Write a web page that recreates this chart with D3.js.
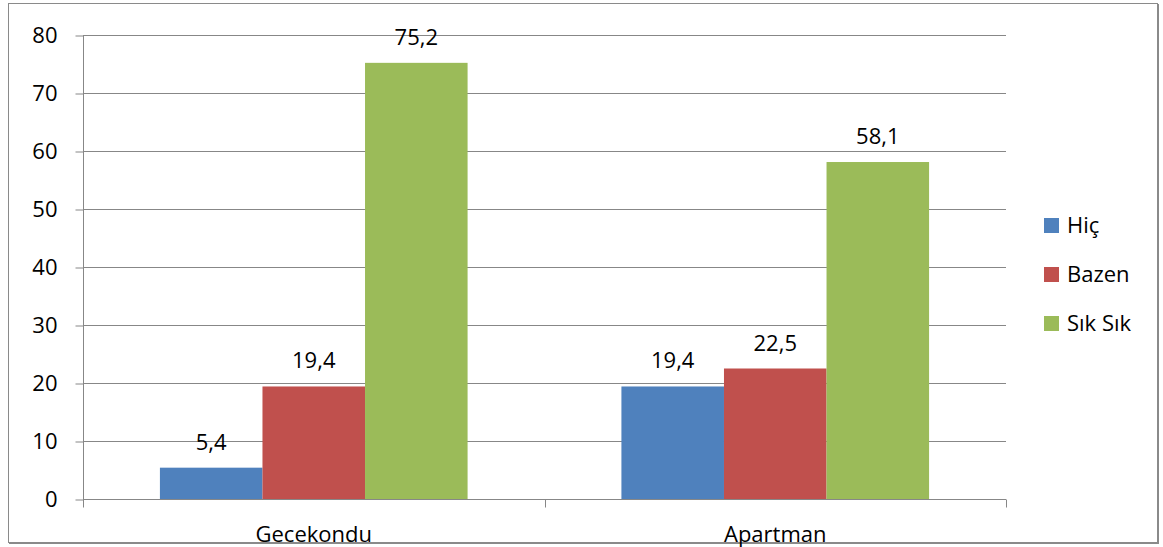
<!DOCTYPE html>
<html><head><meta charset="utf-8">
<script src="https://cdn.jsdelivr.net/npm/d3@7"></script>
<style>html,body{margin:0;padding:0;background:#fff;}svg{display:block;}</style>
</head><body>
<svg id="c" width="1163" height="547"></svg>
<script>
const categories = ["Gecekondu", "Apartman"];
const seriesNames = ["Hiç", "Bazen", "Sık Sık"];
const hic = [5.4, 19.4];
const bazen = [19.4, 22.5];
const sikSik = [75.2, 58.1];
const yTicks = [0, 10, 20, 30, 40, 50, 60, 70, 80];
const colors = ["#4F81BD", "#C0504D", "#9BBB59"];

(function () {
const seriesValues = [hic, bazen, sikSik];
const svg = d3.select("#c");
const font = "'Open Sans', 'Noto Sans', sans-serif";
const fs = 22;
const pLeft = 83, pRight = 1006, pTop = 35, pBottom = 499;

// border
svg.append("rect").attr("x", 8.5).attr("y", 3.5).attr("width", 1149).attr("height", 539)
  .attr("fill", "none").attr("stroke", "#8a8a8a").attr("stroke-width", 1);
svg.append("line").attr("x1", 1158.5).attr("x2", 1158.5).attr("y1", 4).attr("y2", 544).attr("stroke", "#8a8a8a").attr("stroke-width", 1);
svg.append("line").attr("x1", 9).attr("x2", 1159).attr("y1", 543.5).attr("y2", 543.5).attr("stroke", "#8a8a8a").attr("stroke-width", 1);

const y = d3.scaleLinear().domain([0, 80]).range([pBottom, pTop]);
const x0 = d3.scaleBand().domain(categories).range([pLeft, pRight]).paddingInner(0).paddingOuter(0);
const groupW = x0.bandwidth() * 2 / 3;
const x1 = d3.scaleBand().domain(seriesNames).range([(x0.bandwidth() - groupW) / 2, (x0.bandwidth() + groupW) / 2]);

// gridlines
svg.append("g").selectAll("line").data(yTicks.filter(d => d > 0)).join("line")
  .attr("x1", pLeft).attr("x2", pRight)
  .attr("y1", d => Math.round(y(d)) + 0.5).attr("y2", d => Math.round(y(d)) + 0.5)
  .attr("stroke", "#878787").attr("stroke-width", 1);

// y axis
const yAxis = d3.axisLeft(y).tickValues(yTicks).tickSize(8).tickPadding(18).tickFormat(d3.format("d"));
const gy = svg.append("g").attr("transform", `translate(${pLeft + 0.5},0.5)`).call(yAxis);
gy.select(".domain").attr("stroke", "#878787").attr("d", `M0,${pTop}V${pBottom}`);
gy.selectAll(".tick line").attr("stroke", "#878787");
gy.selectAll(".tick text").attr("font-family", font).attr("font-size", fs).attr("fill", "#000");

// bars
categories.forEach((c, ci) => {
  seriesNames.forEach((s, si) => {
    const v = seriesValues[si][ci];
    const bx = x0(c) + x1(s);
    svg.append("rect").attr("x", bx).attr("y", y(v)).attr("width", x1.bandwidth())
      .attr("height", y(0) - y(v)).attr("fill", colors[si]);
    svg.append("text").attr("x", bx + x1.bandwidth() / 2).attr("y", y(v) - 18)
      .attr("text-anchor", "middle").attr("font-family", font).attr("font-size", fs)
      .attr("fill", "#000").text(d3.format(".1f")(v).replace(".", ","));
  });
});

// x axis
const gx = svg.append("g").attr("transform", `translate(0,${pBottom + 0.5})`);
gx.append("line").attr("x1", pLeft).attr("x2", pRight).attr("stroke", "#878787");
const bounds = [pLeft, x0(categories[1]), pRight];
gx.selectAll(".tk").data(bounds).join("line").attr("class", "tk")
  .attr("x1", d => Math.round(d) + 0.5).attr("x2", d => Math.round(d) + 0.5)
  .attr("y1", 0).attr("y2", 8).attr("stroke", "#878787");
gx.selectAll("text").data(categories).join("text")
  .attr("x", d => x0(d) + x0.bandwidth() / 2).attr("y", 42.5)
  .attr("text-anchor", "middle").attr("font-family", font).attr("font-size", fs)
  .attr("fill", "#000").text(d => d);

// legend
const lg = svg.append("g");
seriesNames.forEach((s, i) => {
  const cy = 225 + i * 49;
  lg.append("rect").attr("x", 1044).attr("y", cy - 7).attr("width", 15).attr("height", 15).attr("fill", colors[i]);
  lg.append("text").attr("x", 1067).attr("y", cy + 8).attr("font-family", font).attr("font-size", fs)
    .attr("fill", "#000").text(s);
});
})();
</script>
</body></html>
